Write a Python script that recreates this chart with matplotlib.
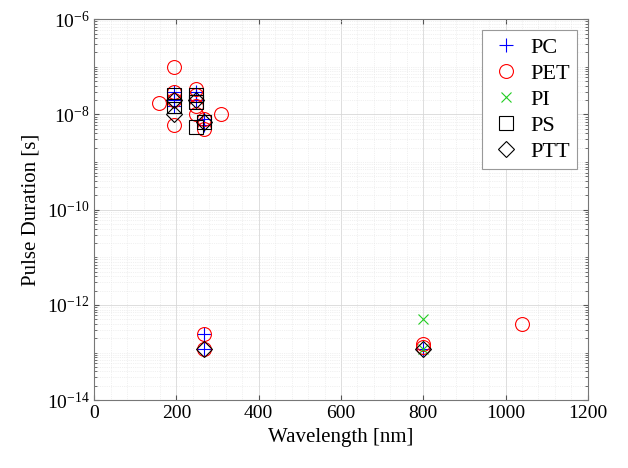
import numpy as np
import matplotlib
matplotlib.use("Agg")
import matplotlib.pyplot as plt
from matplotlib.ticker import LogLocator, NullFormatter, FixedLocator, MultipleLocator

plt.rcParams['font.family'] = ['Liberation Serif', 'DejaVu Serif']
plt.rcParams['mathtext.fontset'] = 'custom'
plt.rcParams['mathtext.rm'] = 'Liberation Serif'
plt.rcParams['mathtext.it'] = 'Liberation Serif:italic'

# wavelength [nm], pulse duration [s]
pc_wl = [193, 193, 193, 248, 248, 248, 266, 266, 266, 266, 800]
pc_tau = [3e-8, 2e-8, 1.5e-8, 3e-8, 2.5e-8, 2e-8, 8e-9, 6e-9, 2.5e-13, 1.2e-13, 1.2e-13]

pet_wl = [157, 193, 193, 193, 193, 248, 248, 248, 248, 266, 266, 308, 266, 266, 800, 800, 1040]
pet_tau = [1.7e-8, 1e-7, 3e-8, 2e-8, 6e-9, 3.5e-8, 2.5e-8, 1.5e-8, 1e-8, 5e-9, 8e-9, 1e-8,
           2.5e-13, 1.2e-13, 1.3e-13, 1.5e-13, 4e-13]

pi_wl = [800, 800]
pi_tau = [5e-13, 1.2e-13]

ps_wl = [193, 193, 248, 248, 248, 266]
ps_tau = [2.5e-8, 1.5e-8, 2.5e-8, 1.8e-8, 5.5e-9, 7e-9]

ptt_wl = [193, 193, 248, 266, 266, 800]
ptt_tau = [2e-8, 1e-8, 2e-8, 7e-9, 1.2e-13, 1.2e-13]

fig = plt.figure(figsize=(6.28, 4.68), dpi=100)
ax = fig.add_axes([0.150, 0.145, 0.786, 0.814])

ms = 10
ax.plot(pc_wl, pc_tau, '+', color='blue', ms=ms, mew=0.8, label='PC')
ax.plot(pet_wl, pet_tau, 'o', mfc='none', mec='red', ms=ms, mew=0.8, label='PET')
ax.plot(pi_wl, pi_tau, 'x', color='#22cc22', ms=7, mew=0.8, label='PI')
ax.plot(ps_wl, ps_tau, 's', mfc='none', mec='black', ms=ms, mew=0.8, label='PS')
ax.plot(ptt_wl, ptt_tau, 'D', mfc='none', mec='black', ms=ms * 0.85, mew=0.8, label='PTT')

ax.set_yscale('log')
ax.set_xlim(0, 1200)
ax.set_ylim(1e-14, 1e-6)
ax.xaxis.set_major_locator(MultipleLocator(200))
ax.yaxis.set_major_locator(FixedLocator([1e-14, 1e-12, 1e-10, 1e-8, 1e-6]))
ax.yaxis.set_minor_locator(LogLocator(base=10, subs=np.arange(1, 10), numticks=30))
ax.yaxis.set_minor_formatter(NullFormatter())
ax.set_yticklabels([r'$10^{-14}$', r'$10^{-12}$', r'$10^{-10}$', r'$10^{-8}$', r'$10^{-6}$'])

ax.grid(True, which='major', color='#d8d8d8', lw=0.6, ls='-')
ax.grid(True, which='minor', axis='y', color='#e4e4e4', lw=0.5, ls=':')
ax.xaxis.set_minor_locator(MultipleLocator(40))
ax.grid(True, which='minor', axis='x', color='#e4e4e4', lw=0.5, ls=':')
ax.set_axisbelow(True)

ax.tick_params(which='both', direction='in', top=True, right=True, labelsize=14, color='#555555')
ax.tick_params(which='minor', length=2)
ax.tick_params(axis='x', which='minor', length=0)
for s in ax.spines.values():
    s.set_color('#777777')
    s.set_linewidth(0.8)

ax.set_xlabel('Wavelength [nm]', fontsize=15)
ax.set_ylabel('Pulse Duration [s]', fontsize=15)

leg = ax.legend(loc='upper right', fontsize=16, fancybox=False, framealpha=1,
                edgecolor='#999999', handletextpad=0.3, borderaxespad=0.5,
                labelspacing=0.25, handlelength=1.6, borderpad=0.3)
leg.get_frame().set_linewidth(0.8)

fig.savefig('out.png', dpi=100)
